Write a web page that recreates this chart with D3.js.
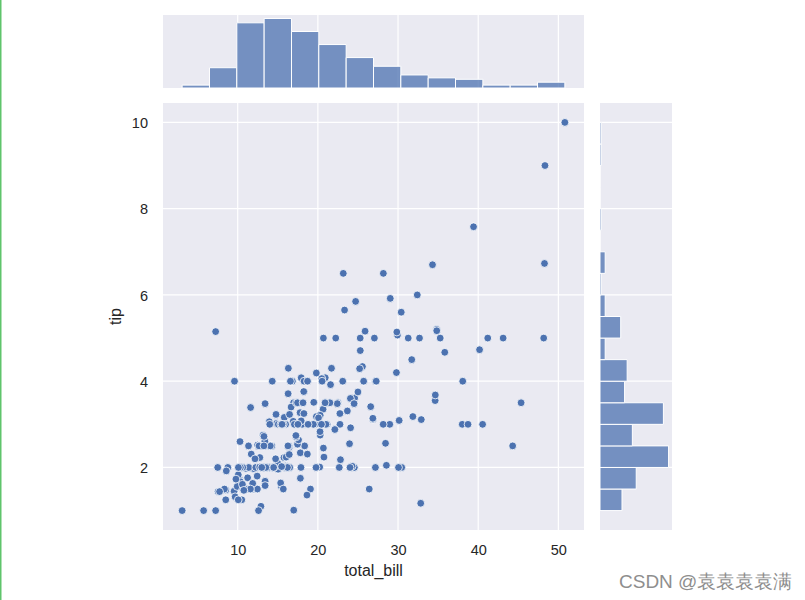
<!DOCTYPE html>
<html>
<head>
<meta charset="utf-8">
<script src="https://cdn.jsdelivr.net/npm/d3@7"></script>
<style>
  html, body { margin: 0; padding: 0; background: #ffffff; }
  svg { display: block; }
  text { font-family: "Liberation Sans", Arial, "DejaVu Sans", sans-serif; fill: #262626; }
</style>
</head>
<body>
<svg id="chart" width="805" height="600"></svg>
<script>
// ---- Data (tips dataset as plotted) ----
const totalBill = [16.99,10.34,21.01,23.68,24.59,25.29,8.77,26.88,15.04,14.78,10.27,35.26,15.42,18.43,14.83,21.58,10.33,16.29,16.97,20.65,17.92,20.29,15.77,39.42,19.82,17.81,13.37,12.69,21.70,19.65,9.55,18.35,15.06,20.69,17.78,24.06,16.31,16.93,18.69,31.27,16.04,17.46,13.94,9.68,30.40,18.29,22.23,32.40,28.55,18.04,12.54,10.29,34.81,9.94,25.56,19.49,38.01,26.41,11.24,48.27,20.29,13.81,11.02,18.29,17.59,20.08,16.45,3.07,20.23,15.01,12.02,17.07,26.86,25.28,14.73,10.51,17.92,27.20,22.76,17.29,19.44,16.66,10.07,32.68,15.98,34.83,13.03,18.28,24.71,21.16,28.97,22.49,5.75,16.32,22.75,40.17,27.28,12.03,21.01,12.46,11.35,15.38,44.30,22.42,20.92,15.36,20.49,25.21,18.24,14.31,14.00,7.25,38.07,23.95,25.71,17.31,29.93,10.65,12.43,24.08,11.69,13.42,14.26,15.95,12.48,29.80,8.52,14.52,11.38,22.82,19.08,20.27,11.17,12.26,18.26,8.51,10.33,14.15,16.00,13.16,17.47,34.30,41.19,27.05,16.43,8.35,18.64,11.87,9.78,7.51,14.07,13.13,17.26,24.55,19.77,29.85,48.17,25.00,13.39,16.49,21.50,12.66,16.21,13.81,17.51,24.52,20.76,31.71,10.59,10.63,50.81,15.81,7.25,31.85,16.82,32.90,17.89,14.48,9.60,34.63,34.65,23.33,45.35,23.17,40.55,20.69,20.90,30.46,18.15,23.10,15.69,19.81,28.44,15.48,16.58,7.56,10.34,43.11,13.00,13.51,18.71,12.74,13.00,16.40,20.53,16.47,26.59,38.73,24.27,12.76,30.06,25.89,48.33,13.27,28.17,12.90,28.15,11.59,7.74,30.14,12.16,13.42,8.58,15.98,13.42,16.27,10.09,20.45,13.28,22.12,24.01,15.69,11.61,10.77,15.53,10.07,12.60,32.83,35.83,29.03,27.18,22.67,17.82,18.78];
const tip = [1.01,1.66,3.50,3.31,3.61,4.71,2.00,3.12,1.96,3.23,1.71,5.00,1.57,3.00,3.02,3.92,1.67,3.71,3.50,3.35,4.08,2.75,2.23,7.58,3.18,2.34,2.00,2.00,4.30,3.00,1.45,2.50,3.00,2.45,3.27,3.60,2.00,3.07,2.31,5.00,2.24,2.54,3.06,1.32,5.60,3.00,5.00,6.00,2.05,3.00,2.50,2.60,5.20,1.56,4.34,3.51,3.00,1.50,1.76,6.73,3.21,2.00,1.98,3.76,2.64,3.15,2.47,1.00,2.01,2.09,1.97,3.00,3.14,5.00,2.20,1.25,3.08,4.00,3.00,2.71,3.00,3.40,1.83,5.00,2.03,5.17,2.00,4.00,5.85,3.00,3.00,3.50,1.00,4.30,3.25,4.73,4.00,1.50,3.00,1.50,2.50,3.00,2.50,3.48,4.08,1.64,4.06,4.29,3.76,4.00,3.00,1.00,4.00,2.55,4.00,3.50,5.07,1.50,1.80,2.92,2.31,1.68,2.50,2.00,2.52,4.20,1.48,2.00,2.00,2.18,1.50,2.83,1.50,2.00,3.25,1.25,2.00,2.00,2.00,2.75,3.50,6.70,5.00,5.00,2.30,1.50,1.36,1.63,1.73,2.00,2.50,2.00,2.74,2.00,2.00,5.14,5.00,3.75,2.61,2.00,3.50,2.50,2.00,2.00,3.00,3.48,2.24,4.50,1.61,2.00,10.00,3.16,5.15,3.18,4.00,3.11,2.00,2.00,4.00,3.55,3.68,5.65,3.50,6.50,3.00,5.00,3.50,2.00,3.50,4.00,1.50,4.19,2.56,2.02,4.00,1.44,2.00,5.00,2.00,2.00,4.00,2.01,2.00,2.50,4.00,3.23,3.41,3.00,2.03,2.23,2.00,5.16,9.00,2.50,6.50,1.10,3.00,1.50,1.44,3.09,2.20,3.48,1.92,3.00,1.58,2.50,2.00,3.00,2.72,2.88,2.00,3.00,3.39,1.47,3.00,1.25,1.00,1.17,4.67,5.92,2.00,2.00,1.75,3.00];

const xTicks = [10, 20, 30, 40, 50];
const yTicks = [2, 4, 6, 8, 10];
const xLabel = "total_bill";
const yLabel = "tip";
const billBinCount = 14;   // bins in top histogram
const tipBinWidth = 0.5;   // bin width in right histogram
const watermark = "CSDN @袁袁袁袁满";

// ---- Layout ----
const main = { left: 163, right: 584, top: 103, bottom: 530 };
const topM = { top: 15, bottom: 88 };
const rightM = { left: 600, right: 672 };
const BG = "#EAEAF2", BLUE = "#4C72B0";

const svg = d3.select("#chart");
svg.append("rect").attr("x", 0).attr("y", 0).attr("width", 805).attr("height", 600).attr("fill", "#ffffff");
svg.append("rect").attr("x", 0).attr("y", 0).attr("width", 1.5).attr("height", 600).attr("fill", "#5fc46b");

// ---- Scales ----
const bMin = d3.min(totalBill), bMax = d3.max(totalBill);
const tMin = d3.min(tip), tMax = d3.max(tip);
const bPad = (bMax - bMin) * 0.05, tPad = (tMax - tMin) * 0.05;
const x = d3.scaleLinear().domain([bMin - bPad, bMax + bPad]).range([main.left, main.right]);
const y = d3.scaleLinear().domain([tMin - tPad, tMax + tPad]).range([main.bottom, main.top]);

// ---- Bins ----
const bW = (bMax - bMin) / billBinCount;
const billBins = d3.bin().domain([bMin, bMax])
  .thresholds(d3.range(1, billBinCount).map(i => bMin + i * bW))(totalBill);
const nTip = Math.round((tMax - tMin) / tipBinWidth);
const tipBins = d3.bin().domain([tMin, tMax])
  .thresholds(d3.range(1, nTip).map(i => tMin + i * tipBinWidth))(tip);

const cx = d3.scaleLinear().domain([0, d3.max(billBins, d => d.length) * 1.05]).range([topM.bottom, topM.top]);
const cy = d3.scaleLinear().domain([0, d3.max(tipBins, d => d.length) * 1.05]).range([rightM.left, rightM.right]);

// ---- Backgrounds ----
svg.append("rect").attr("x", main.left).attr("y", main.top)
  .attr("width", main.right - main.left).attr("height", main.bottom - main.top).attr("fill", BG);
svg.append("rect").attr("x", main.left).attr("y", topM.top)
  .attr("width", main.right - main.left).attr("height", topM.bottom - topM.top).attr("fill", BG);
svg.append("rect").attr("x", rightM.left).attr("y", main.top)
  .attr("width", rightM.right - rightM.left).attr("height", main.bottom - main.top).attr("fill", BG);

// ---- Grid lines ----
const grid = svg.append("g").attr("stroke", "#ffffff").attr("stroke-width", 1.2);
xTicks.forEach(v => {
  grid.append("line").attr("x1", x(v)).attr("x2", x(v)).attr("y1", main.top).attr("y2", main.bottom);
  grid.append("line").attr("x1", x(v)).attr("x2", x(v)).attr("y1", topM.top).attr("y2", topM.bottom);
});
yTicks.forEach(v => {
  grid.append("line").attr("x1", main.left).attr("x2", main.right).attr("y1", y(v)).attr("y2", y(v));
  grid.append("line").attr("x1", rightM.left).attr("x2", rightM.right).attr("y1", y(v)).attr("y2", y(v));
});

// ---- Top histogram ----
svg.append("g").selectAll("path").data(billBins).join("path")
  .attr("d", d => `M${x(d.x0)},${cx(0)}V${cx(d.length)}H${x(d.x1)}V${cx(0)}Z`)
  .attr("fill", BLUE).attr("fill-opacity", 0.75)
  .attr("stroke", "#ffffff").attr("stroke-width", 1);

// ---- Right histogram ----
svg.append("g").selectAll("path").data(tipBins).join("path")
  .attr("d", d => `M${cy(0)},${y(d.x0)}H${cy(d.length)}V${y(d.x1)}H${cy(0)}Z`)
  .attr("fill", BLUE).attr("fill-opacity", 0.75)
  .attr("stroke", "#ffffff").attr("stroke-width", 1);

// ---- Scatter ----
svg.append("g").selectAll("circle").data(d3.range(totalBill.length)).join("circle")
  .attr("cx", i => x(totalBill[i])).attr("cy", i => y(tip[i])).attr("r", 3.9)
  .attr("fill", BLUE).attr("stroke", "#ffffff").attr("stroke-width", 0.8);

// ---- Axes labels ----
const xAxis = d3.axisBottom(x).tickValues(xTicks).tickSize(0).tickPadding(0);
const gx = svg.append("g").attr("transform", `translate(0,${main.bottom})`).call(xAxis);
gx.select(".domain").remove();
gx.selectAll("text").attr("y", 25).attr("dy", null).attr("font-size", "14.5px").attr("fill", "#262626");

const yAxis = d3.axisLeft(y).tickValues(yTicks).tickSize(0).tickPadding(0);
const gy = svg.append("g").attr("transform", `translate(148,0)`).call(yAxis);
gy.select(".domain").remove();
gy.selectAll("text").attr("x", 0).attr("dy", "0.36em").attr("font-size", "14.5px").attr("fill", "#262626");

svg.append("text").attr("x", (main.left + main.right) / 2).attr("y", 576)
  .attr("text-anchor", "middle").attr("font-size", "16px").text(xLabel);
svg.append("text").attr("transform", `translate(121,${(main.top + main.bottom) / 2}) rotate(-90)`)
  .attr("text-anchor", "middle").attr("font-size", "16px").text(yLabel);

// ---- Watermark ----
svg.append("text").attr("x", 619).attr("y", 588)
  .attr("font-family", "'Noto Sans CJK SC', 'Liberation Sans', sans-serif")
  .attr("font-size", "19px").style("fill", "#8e8e8e").text(watermark);
</script>
</body>
</html>
